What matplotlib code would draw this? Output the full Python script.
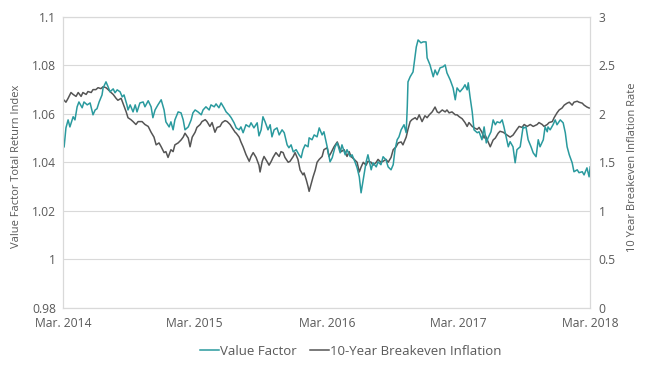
import numpy as np
import pandas as pd
import matplotlib
matplotlib.use('Agg')
import matplotlib.pyplot as plt
import matplotlib.dates as mdates

#########################################################################
#  Data
#########################################################################
start = pd.Timestamp('2014-03-01')

# Value Factor total return index (left axis), days after Mar. 2014
vf_days = [3, 8, 14, 19, 28, 33, 39, 44, 53, 58,
           67, 75, 83, 89, 94, 100, 108, 111, 119, 125,
           130, 139, 144, 150, 158, 164, 169, 177, 180, 186,
           194, 200, 205, 213, 222, 227, 236, 244, 249, 255,
           263, 272, 280, 285, 294, 299, 305, 310, 319, 327,
           333, 338, 347, 355, 360, 366, 374, 383, 388, 396,
           405, 410, 419, 424, 432, 438, 446, 452, 460, 466,
           474, 480, 488, 493, 499, 507, 516, 521, 529, 538,
           543, 549, 554, 560, 568, 574, 579, 585, 593, 599,
           607, 613, 621, 626, 632, 638, 646, 654, 660, 665,
           671, 679, 682, 690, 696, 704, 710, 718, 723, 732,
           740, 746, 754, 760, 768, 773, 782, 787, 796, 801,
           809, 815, 821, 826, 832, 840, 845, 854, 859, 868,
           873, 881, 887, 895, 901, 909, 915, 920, 926, 931,
           937, 945, 951, 954, 956, 962, 970, 979, 984, 992,
           998, 1006, 1009, 1017, 1026, 1031, 1037, 1045, 1053, 1059,
           1064, 1073, 1081, 1087, 1092, 1100, 1109, 1114, 1120, 1123,
           1128, 1134, 1139, 1148, 1153, 1161, 1167, 1173, 1178, 1186,
           1192, 1198, 1203, 1211, 1217, 1222, 1228, 1234, 1239, 1247,
           1253, 1258, 1267, 1275, 1278, 1283, 1289, 1297, 1303, 1311,
           1317, 1322, 1331, 1336, 1342, 1344, 1350, 1358, 1364, 1369,
           1378, 1386, 1392, 1397, 1403, 1411, 1416, 1425, 1430, 1439,
           1444, 1452, 1458, 1461]
vf_vals = [1.0464, 1.0542, 1.0575, 1.0546, 1.0588, 1.0575, 1.0629, 1.0649, 1.0625, 1.0649,
           1.0637, 1.0645, 1.0596, 1.0616, 1.0621, 1.0649, 1.0678, 1.0707, 1.0732, 1.0711,
           1.0691, 1.0703, 1.0687, 1.0699, 1.0691, 1.0670, 1.0678, 1.0637, 1.0616, 1.0637,
           1.0608, 1.0637, 1.0608, 1.0645, 1.0649, 1.0629, 1.0654, 1.0629, 1.0584, 1.0616,
           1.0637, 1.0658, 1.0616, 1.0567, 1.0546, 1.0567, 1.0534, 1.0575, 1.0608, 1.0604,
           1.0575, 1.0534, 1.0546, 1.0575, 1.0604, 1.0616, 1.0608, 1.0596, 1.0616, 1.0629,
           1.0616, 1.0637, 1.0629, 1.0641, 1.0625, 1.0645, 1.0625, 1.0608, 1.0596, 1.0584,
           1.0563, 1.0542, 1.0534, 1.0546, 1.0522, 1.0555, 1.0546, 1.0563, 1.0542, 1.0563,
           1.0509, 1.0534, 1.0588, 1.0567, 1.0534, 1.0555, 1.0505, 1.0534, 1.0542, 1.0513,
           1.0534, 1.0522, 1.0472, 1.0460, 1.0472, 1.0443, 1.0452, 1.0431, 1.0419, 1.0452,
           1.0472, 1.0464, 1.0501, 1.0493, 1.0513, 1.0505, 1.0542, 1.0513, 1.0526, 1.0464,
           1.0402, 1.0419, 1.0464, 1.0480, 1.0439, 1.0472, 1.0431, 1.0452, 1.0423, 1.0431,
           1.0402, 1.0377, 1.0340, 1.0274, 1.0328, 1.0402, 1.0431, 1.0369, 1.0398, 1.0381,
           1.0402, 1.0390, 1.0423, 1.0410, 1.0381, 1.0369, 1.0390, 1.0452, 1.0493, 1.0505,
           1.0534, 1.0555, 1.0522, 1.0629, 1.0732, 1.0753, 1.0773, 1.0876, 1.0905, 1.0893,
           1.0897, 1.0897, 1.0831, 1.0802, 1.0753, 1.0781, 1.0761, 1.0790, 1.0794, 1.0802,
           1.0769, 1.0740, 1.0707, 1.0658, 1.0707, 1.0691, 1.0707, 1.0720, 1.0699, 1.0728,
           1.0670, 1.0608, 1.0534, 1.0522, 1.0526, 1.0493, 1.0546, 1.0480, 1.0501, 1.0526,
           1.0575, 1.0555, 1.0567, 1.0563, 1.0575, 1.0546, 1.0505, 1.0464, 1.0485, 1.0464,
           1.0398, 1.0452, 1.0464, 1.0546, 1.0542, 1.0546, 1.0493, 1.0464, 1.0439, 1.0423,
           1.0493, 1.0464, 1.0493, 1.0546, 1.0526, 1.0546, 1.0534, 1.0555, 1.0575, 1.0555,
           1.0575, 1.0563, 1.0522, 1.0464, 1.0431, 1.0398, 1.0361, 1.0369, 1.0357, 1.0361,
           1.0348, 1.0377, 1.0340, 1.0381]

# 10-year breakeven inflation rate (right axis), days after Mar. 2014
be_days = [3, 8, 14, 22, 28, 36, 42, 50, 55, 64,
           69, 78, 83, 91, 97, 105, 111, 119, 125, 133,
           139, 147, 152, 161, 166, 175, 180, 188, 194, 202,
           208, 219, 227, 236, 244, 252, 258, 266, 272, 280,
           285, 291, 299, 305, 310, 319, 327, 333, 338, 347,
           352, 358, 366, 371, 380, 385, 394, 399, 407, 413,
           421, 427, 435, 441, 449, 455, 463, 468, 477, 480,
           488, 493, 499, 507, 516, 521, 527, 535, 543, 546,
           552, 557, 565, 571, 577, 582, 590, 599, 604, 610,
           615, 624, 629, 638, 643, 651, 657, 665, 668, 674,
           679, 682, 687, 693, 699, 704, 710, 718, 723, 732,
           737, 743, 751, 760, 765, 771, 779, 787, 793, 798,
           807, 815, 821, 826, 832, 840, 845, 854, 859, 868,
           873, 881, 887, 895, 901, 909, 915, 923, 929, 937,
           942, 951, 956, 962, 967, 976, 981, 987, 995, 1003,
           1009, 1015, 1023, 1031, 1037, 1042, 1051, 1059, 1064, 1070,
           1078, 1087, 1092, 1098, 1106, 1114, 1120, 1125, 1134, 1142,
           1148, 1153, 1161, 1167, 1170, 1178, 1184, 1192, 1198, 1206,
           1211, 1220, 1231, 1239, 1247, 1258, 1264, 1272, 1278, 1286,
           1295, 1303, 1314, 1319, 1328, 1333, 1342, 1347, 1356, 1361,
           1369, 1375, 1383, 1389, 1397, 1403, 1411, 1416, 1425, 1430,
           1439, 1444, 1452, 1458, 1461]
be_vals = [2.14, 2.12, 2.16, 2.22, 2.20, 2.18, 2.22, 2.18, 2.22, 2.20,
           2.23, 2.22, 2.25, 2.25, 2.27, 2.26, 2.28, 2.27, 2.25, 2.22,
           2.20, 2.16, 2.14, 2.16, 2.11, 2.02, 1.96, 1.94, 1.92, 1.89,
           1.92, 1.92, 1.89, 1.87, 1.81, 1.76, 1.68, 1.70, 1.66, 1.60,
           1.61, 1.55, 1.63, 1.61, 1.68, 1.70, 1.73, 1.76, 1.80, 1.75,
           1.66, 1.76, 1.81, 1.86, 1.89, 1.92, 1.94, 1.92, 1.87, 1.91,
           1.81, 1.86, 1.87, 1.91, 1.93, 1.92, 1.89, 1.86, 1.81, 1.80,
           1.76, 1.71, 1.66, 1.58, 1.51, 1.56, 1.60, 1.55, 1.47, 1.40,
           1.51, 1.56, 1.51, 1.47, 1.51, 1.55, 1.60, 1.56, 1.61, 1.60,
           1.55, 1.50, 1.51, 1.56, 1.60, 1.53, 1.42, 1.37, 1.39, 1.32,
           1.25, 1.20, 1.27, 1.35, 1.42, 1.50, 1.53, 1.56, 1.63, 1.65,
           1.56, 1.60, 1.66, 1.71, 1.66, 1.61, 1.63, 1.56, 1.61, 1.56,
           1.53, 1.50, 1.40, 1.45, 1.50, 1.47, 1.51, 1.50, 1.47, 1.50,
           1.53, 1.50, 1.51, 1.53, 1.50, 1.55, 1.63, 1.66, 1.70, 1.71,
           1.68, 1.76, 1.84, 1.92, 1.94, 1.96, 1.94, 1.99, 1.92, 1.98,
           1.96, 1.99, 2.02, 2.07, 2.02, 2.01, 2.04, 2.02, 2.04, 2.01,
           2.02, 1.99, 1.99, 1.97, 1.95, 1.91, 1.87, 1.91, 1.87, 1.85,
           1.84, 1.86, 1.81, 1.75, 1.78, 1.71, 1.66, 1.73, 1.75, 1.80,
           1.82, 1.81, 1.78, 1.76, 1.78, 1.84, 1.87, 1.86, 1.89, 1.87,
           1.89, 1.87, 1.89, 1.91, 1.89, 1.87, 1.89, 1.91, 1.92, 1.96,
           2.01, 2.04, 2.06, 2.09, 2.11, 2.12, 2.09, 2.12, 2.13, 2.12,
           2.11, 2.09, 2.07, 2.06, 2.06]

left_ticks = [0.98, 1.0, 1.02, 1.04, 1.06, 1.08, 1.1]
left_labels = ['0.98', '1', '1.02', '1.04', '1.06', '1.08', '1.1']
right_ticks = [0, 0.5, 1, 1.5, 2, 2.5, 3]
right_labels = ['0', '0.5', '1', '1.5', '2', '2.5', '3']
x_tick_dates = ['2014-03-01', '2015-03-01', '2016-03-01', '2017-03-01', '2018-03-01']
x_tick_labels = ['Mar. 2014', 'Mar. 2015', 'Mar. 2016', 'Mar. 2017', 'Mar. 2018']

#########################################################################
#  Plot
#########################################################################
plt.rcParams['font.family'] = ['Open Sans', 'DejaVu Sans']
txt_color = '#595959'
grid_color = '#d9d9d9'
teal = '#2a9a9e'
dark = '#555555'

vf_dates = start + pd.to_timedelta(vf_days, unit='D')
be_dates = start + pd.to_timedelta(be_days, unit='D')

fig = plt.figure(figsize=(6.5, 3.68), dpi=100)
ax = fig.add_axes([0.097, 0.164, 0.811, 0.79])
ax2 = ax.twinx()

# grid lives on the right axis so the lines sit above it
ax2.set_zorder(0)
ax.set_zorder(1)
ax.patch.set_visible(False)

line_be, = ax2.plot(be_dates, be_vals, color=dark, linewidth=1.1, label='10-Year Breakeven Inflation')
line_vf, = ax.plot(vf_dates, vf_vals, color=teal, linewidth=1.1, label='Value Factor')

ax.set_ylim(0.98, 1.1)
ax2.set_ylim(0, 3)
ax.set_xlim(pd.Timestamp(x_tick_dates[0]), pd.Timestamp(x_tick_dates[-1]))

ax.set_yticks(left_ticks)
ax.set_yticklabels(left_labels)
ax2.set_yticks(right_ticks)
ax2.set_yticklabels(right_labels)
ax.set_xticks(pd.to_datetime(x_tick_dates))
ax.set_xticklabels(x_tick_labels)

ax2.grid(axis='y', color=grid_color, linewidth=0.8)
ax2.grid(axis='x', color='#ebebeb', linewidth=0.8)
ax2.set_axisbelow(True)

for a in (ax, ax2):
    for s in a.spines.values():
        s.set_color(grid_color)
        s.set_linewidth(0.8)
    a.tick_params(length=0, labelsize=8.7, labelcolor=txt_color)
ax.tick_params(axis='y', pad=5)
ax2.tick_params(axis='y', pad=6)
ax.tick_params(axis='x', pad=7)

ax.set_ylabel('Value Factor Total Return Index', fontsize=8, color=txt_color)
ax.yaxis.set_label_coords(-0.078, 0.487)
ax2.set_ylabel('10 Year Breakeven Inflation Rate', fontsize=8, color=txt_color)
ax2.yaxis.set_label_coords(1.07, 0.484)

fig.legend(handles=[line_vf, line_be], loc='center', bbox_to_anchor=(0.54, 0.045),
           ncol=2, frameon=False, fontsize=9.5, labelcolor=txt_color,
           handlelength=1.4, handletextpad=0.1, columnspacing=1.0)

plt.savefig('out.png', dpi=100)
